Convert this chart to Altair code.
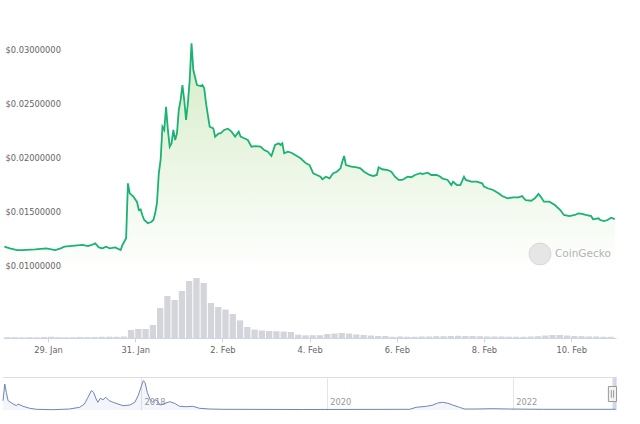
import altair as alt
import pandas as pd

# ---------------- data ----------------
# price: hours after 28 Jan 2023 00:00 and price in USD
price_hours = [0, 3, 7, 10, 17, 23, 28, 31, 33, 36, 43, 46, 48, 50, 52, 54, 56, 58, 61, 64,
               65, 67, 68, 69, 71, 73, 74, 75, 76, 77, 79, 81, 82, 83, 84, 85, 86, 87, 88, 89,
               90, 91, 92, 93, 94, 95, 96, 97, 98, 99, 100, 101, 102, 103, 104, 106, 108, 109, 110, 111,
               113, 115, 116, 118, 119, 121, 123, 125, 127, 129, 130, 132, 134, 136, 138, 141, 143, 145, 147, 149,
               151, 152, 153, 154, 156, 158, 161, 163, 166, 168, 170, 172, 174, 175, 177, 179, 181, 183, 185, 186,
               187, 188, 191, 194, 196, 198, 201, 203, 205, 206, 208, 211, 213, 215, 217, 219, 222, 224, 226, 229,
               230, 233, 235, 238, 240, 241, 244, 246, 247, 249, 251, 253, 254, 257, 260, 263, 264, 266, 269, 272,
               274, 277, 280, 283, 285, 286, 287, 290, 292, 294, 295, 297, 300, 303, 306, 308, 311, 314, 316, 318,
               320, 323, 324, 327, 328, 330, 332, 334, 336]
price_values = [0.01225, 0.01210, 0.01194, 0.01194, 0.01201, 0.01210, 0.01194, 0.01210, 0.01225, 0.01231,
                0.01241, 0.01231, 0.01241, 0.01256, 0.01219, 0.01210, 0.01225, 0.01210, 0.01219, 0.01194,
                0.01241, 0.01303, 0.01812, 0.01719, 0.01688, 0.01639, 0.01565, 0.01571, 0.01514, 0.01472,
                0.01442, 0.01456, 0.01472, 0.01534, 0.01630, 0.01905, 0.02028, 0.02336, 0.02306, 0.02521,
                0.02306, 0.02151, 0.02182, 0.02306, 0.02213, 0.02275, 0.02491, 0.02583, 0.02722, 0.02583,
                0.02398, 0.02553, 0.02769, 0.03108, 0.02861, 0.02722, 0.02713, 0.02722, 0.02692, 0.02553,
                0.02336, 0.02321, 0.02244, 0.02275, 0.02275, 0.02306, 0.02318, 0.02290, 0.02244, 0.02290,
                0.02244, 0.02229, 0.02213, 0.02151, 0.02157, 0.02151, 0.02120, 0.02105, 0.02065, 0.02167,
                0.02182, 0.02167, 0.02182, 0.02090, 0.02105, 0.02095, 0.02065, 0.02044, 0.01997, 0.01981,
                0.01905, 0.01889, 0.01873, 0.01849, 0.01873, 0.01858, 0.01905, 0.01919, 0.01951, 0.02012,
                0.02065, 0.01981, 0.01966, 0.01960, 0.01951, 0.01919, 0.01889, 0.01880, 0.01889, 0.01960,
                0.01942, 0.01935, 0.01919, 0.01873, 0.01843, 0.01843, 0.01873, 0.01868, 0.01889, 0.01905,
                0.01898, 0.01910, 0.01889, 0.01889, 0.01873, 0.01858, 0.01843, 0.01796, 0.01827, 0.01796,
                0.01796, 0.01873, 0.01843, 0.01827, 0.01827, 0.01812, 0.01781, 0.01766, 0.01750, 0.01719,
                0.01694, 0.01673, 0.01682, 0.01682, 0.01694, 0.01673, 0.01657, 0.01651, 0.01673, 0.01713,
                0.01694, 0.01642, 0.01642, 0.01611, 0.01565, 0.01519, 0.01509, 0.01519, 0.01534, 0.01528,
                0.01519, 0.01509, 0.01479, 0.01488, 0.01472, 0.01463, 0.01472, 0.01494, 0.01481]

# volume: 4-hour buckets (start hour) and volume in million USD
volume_hours = [0, 4, 8, 12, 16, 20, 24, 28, 32, 36, 40, 44, 48, 52, 56, 60, 64, 68, 72, 76,
                80, 84, 88, 92, 96, 100, 104, 108, 112, 116, 120, 124, 128, 132, 136, 140, 144, 148, 152, 156,
                160, 164, 168, 172, 176, 180, 184, 188, 192, 196, 200, 204, 208, 212, 216, 220, 224, 228, 232, 236,
                240, 244, 248, 252, 256, 260, 264, 268, 272, 276, 280, 284, 288, 292, 296, 300, 304, 308, 312, 316,
                320, 324, 328, 332]
volume_values = [0.20, 0.20, 0.18, 0.20, 0.18, 0.25, 0.30, 0.20, 0.18, 0.20, 0.25, 0.22, 0.25, 0.30, 0.32, 0.30, 0.38, 2.00, 2.25, 2.25,
                 3.25, 7.50, 10.50, 9.50, 11.75, 14.25, 15.00, 13.75, 8.75, 7.75, 7.10, 6.00, 4.40, 2.75, 2.10, 1.90, 1.75, 1.70, 1.60, 1.50,
                 0.82, 0.68, 0.70, 0.70, 1.00, 1.12, 1.25, 1.12, 0.88, 0.75, 0.62, 0.50, 0.50, 0.30, 0.38, 0.32, 0.30, 0.38, 0.38, 0.45,
                 0.45, 0.50, 0.55, 0.50, 0.50, 0.45, 0.38, 0.38, 0.38, 0.32, 0.30, 0.30, 0.38, 0.45, 0.62, 0.75, 0.75, 0.62, 0.50, 0.45,
                 0.38, 0.38, 0.30, 0.30]

# navigator (all-time) history: dates and price
nav_dates = ["2016-07-08", "2016-07-15", "2016-07-21", "2016-07-28", "2016-08-17", "2016-08-30", "2016-09-05",
             "2016-09-25", "2016-10-21", "2016-11-17", "2017-01-21", "2017-03-26", "2017-05-05", "2017-05-24",
             "2017-06-07", "2017-06-20", "2017-06-29", "2017-07-09", "2017-07-16", "2017-07-25", "2017-08-05",
             "2017-08-16", "2017-08-29", "2017-09-14", "2017-10-03", "2017-10-23", "2017-11-19", "2017-12-08",
             "2017-12-21", "2017-12-30", "2018-01-10", "2018-01-17", "2018-01-26", "2018-02-05", "2018-02-16",
             "2018-02-25", "2018-03-06", "2018-03-17", "2018-03-30", "2018-04-24", "2018-05-13", "2018-06-02",
             "2018-06-28", "2018-07-24", "2018-08-19", "2018-09-28", "2018-11-19", "2019-09-29", "2020-11-22",
             "2020-12-18", "2021-01-27", "2021-02-22", "2021-03-12", "2021-04-01", "2021-04-21", "2021-05-10",
             "2021-06-06", "2021-06-25", "2021-08-10", "2021-10-15", "2021-12-19", "2022-04-28", "2022-09-07",
             "2023-01-29", "2023-02-11"]
nav_values = [0.098, 0.265, 0.182, 0.098, 0.065, 0.048, 0.065, 0.042, 0.022, 0.012, 0.008, 0.015, 0.032, 0.065,
              0.132, 0.198, 0.182, 0.115, 0.082, 0.122, 0.108, 0.132, 0.098, 0.082, 0.065, 0.048, 0.055, 0.082,
              0.148, 0.215, 0.298, 0.282, 0.182, 0.115, 0.082, 0.108, 0.098, 0.055, 0.065, 0.088, 0.072, 0.042,
              0.038, 0.042, 0.022, 0.015, 0.012, 0.010, 0.012, 0.032, 0.042, 0.055, 0.075, 0.082, 0.072, 0.055,
              0.032, 0.015, 0.015, 0.018, 0.015, 0.012, 0.012, 0.012, 0.013]

price_ticks = [0.010, 0.015, 0.020, 0.025, 0.030]
watermark = ["CoinGecko"]

# ---------------- tables ----------------
base = pd.Timestamp("2023-01-28 00:00")
price_df = pd.DataFrame({
    "time": [(base + pd.Timedelta(hours=h)).strftime("%Y-%m-%dT%H:%M:%S") for h in price_hours],
    "price": price_values,
})
vol_df = pd.DataFrame({
    "start": [(base + pd.Timedelta(hours=h)).strftime("%Y-%m-%dT%H:%M:%S") for h in volume_hours],
    "end": [(base + pd.Timedelta(hours=h + 4)).strftime("%Y-%m-%dT%H:%M:%S") for h in volume_hours],
    "volume": volume_values,
})
nav_df = pd.DataFrame({"date": [d + "T00:00:00" for d in nav_dates], "value": nav_values})
wm_df = pd.DataFrame({"label": watermark})

FONT = "DejaVu Sans"
LABEL = "#666666"

x_domain = [alt.DateTime(year=2023, month=1, date=27, hours=23, minutes=14),
            alt.DateTime(year=2023, month=2, date=11, hours=0, minutes=40)]
x_ticks = [alt.DateTime(year=2023, month=1, date=29), alt.DateTime(year=2023, month=1, date=31),
           alt.DateTime(year=2023, month=2, date=2), alt.DateTime(year=2023, month=2, date=4),
           alt.DateTime(year=2023, month=2, date=6), alt.DateTime(year=2023, month=2, date=8),
           alt.DateTime(year=2023, month=2, date=10)]

x_main = alt.X("time:T", title=None, scale=alt.Scale(domain=x_domain),
               axis=alt.Axis(values=x_ticks, format="%-d. %b", grid=False, tickSize=4,
                             tickColor="#ccd6eb", domainColor="#ccd6eb", labelPadding=3,
                             labelColor=LABEL, labelFont=FONT, labelFontSize=8.3))

price_scale = alt.Scale(domain=[0.0037963, 0.035093], nice=False, zero=False)
price_axis = alt.Axis(values=price_ticks, format="$.8f", orient="left", ticks=False,
                      domain=False, labelAlign="left", labelBaseline="bottom",
                      labelPadding=-2, labelOffset=-1, gridColor="#f0f0f0", zindex=1,
                      labelColor=LABEL, labelFont=FONT, labelFontSize=8.3)

gradient = alt.Gradient(gradient="linear",
                        stops=[alt.GradientStop(color="#d4ecc6", offset=0),
                               alt.GradientStop(color="#ffffff", offset=1)],
                        x1=0, x2=0, y1=0, y2=1)

area = alt.Chart(price_df).mark_area(fill=gradient).encode(
    x=x_main, y=alt.Y("price:Q", title=None, scale=price_scale, axis=price_axis),
    y2=alt.datum(0.01))
line = alt.Chart(price_df).mark_line(color="#1bb274", strokeWidth=1.8).encode(
    x=alt.X("time:T", title=None),
    y=alt.Y("price:Q", title=None, scale=price_scale, axis=price_axis))
price_layer = alt.layer(area, line)

bars = alt.Chart(vol_df).mark_rect(color="#d3d5db", x2Offset=-1).encode(
    x=alt.X("start:T", title=None), x2="end:T",
    y=alt.Y("volume:Q", axis=None, scale=alt.Scale(domain=[0, 84.5], nice=False)),
    y2=alt.datum(0))

logo = alt.Chart(wm_df).mark_point(filled=True, shape="circle", size=480, color="#e6e6e6",
                                   stroke="#d8d8d8", strokeWidth=1, opacity=1).encode(
    x=alt.value(537), y=alt.value(254))
wm = alt.Chart(wm_df).mark_text(align="left", baseline="middle", font=FONT, fontSize=10.5,
                                color="#b3b3b3").encode(
    x=alt.value(552), y=alt.value(254), text="label:N")

main = alt.layer(bars, price_layer, logo, wm).resolve_scale(y="independent").properties(
    width=613, height=338)

# ---------------- navigator ----------------
nav_x_domain = [alt.DateTime(year=2016, month=7, date=8), alt.DateTime(year=2023, month=2, date=11)]
nav_x = alt.X("date:T", title=None, scale=alt.Scale(domain=nav_x_domain),
              axis=alt.Axis(values=[alt.DateTime(year=2018, month=1, date=1),
                                    alt.DateTime(year=2020, month=1, date=1),
                                    alt.DateTime(year=2022, month=1, date=1)],
                            format="%Y", grid=True, gridColor="#e6e6e6", ticks=False, domain=False,
                            labelAlign="left", labelBaseline="bottom", labelPadding=-4,
                            labelOffset=3, labelColor="#999999", labelFont=FONT, labelFontSize=8.3))
nav_y = alt.Y("value:Q", axis=None, scale=alt.Scale(domain=[0.005, 0.335], nice=False, zero=False))

nav_area = alt.Chart(nav_df).mark_area(color="#335cad", opacity=0.06).encode(
    x=nav_x, y=nav_y, y2=alt.datum(0.005))
nav_line = alt.Chart(nav_df).mark_line(color="#6d86b8", strokeWidth=1).encode(
    x=alt.X("date:T"), y=alt.Y("value:Q"))

sel_df = pd.DataFrame({"a": ["2023-01-28T00:00:00"], "b": ["2023-02-11T00:00:00"]})
mask = alt.Chart(sel_df).mark_rect(color="#6685c2", opacity=0.3).encode(
    x=alt.X("a:T"), x2="b:T")
top_border = alt.Chart(sel_df).mark_rule(color="#dddddd", strokeWidth=1).encode(
    x=alt.value(0), x2=alt.value(611), y=alt.value(0.5))
edge = alt.Chart(sel_df).mark_rule(color="#cccccc", strokeWidth=1).encode(
    x=alt.X("b:T"), y=alt.value(0), y2=alt.value(33))
handle = alt.Chart(sel_df).mark_point(
    shape="M-0.54,-1H0.54V1H-0.54Z", size=225, filled=True, fill="#f2f2f2", stroke="#999999",
    strokeWidth=1, opacity=1).encode(x=alt.X("a:T"), y=alt.value(17))
grip = alt.Chart(sel_df).mark_point(
    shape="M-0.15,-0.5V0.5M0.15,-0.5V0.5", size=225, filled=False, stroke="#999999",
    strokeWidth=1, opacity=1).encode(x=alt.X("a:T"), y=alt.value(17))

nav = alt.layer(nav_area, nav_line, mask, top_border, edge, handle, grip).properties(
    width=613, height=33)

chart = alt.vconcat(main, nav, spacing=22).properties(
    padding={"left": 0, "top": 0, "right": 0, "bottom": 0},
    background="white",
).configure_view(stroke=None)

chart.save("out.html", embed_options={"renderer": "svg", "actions": False})
